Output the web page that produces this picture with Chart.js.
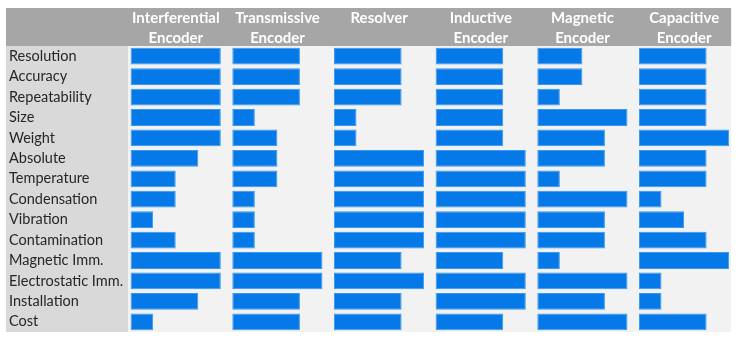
<!DOCTYPE html>
<html>
<head>
<meta charset="utf-8">
<script src="https://cdn.jsdelivr.net/npm/chart.js@4"></script>
<style>
  html, body { margin: 0; padding: 0; background: #ffffff; }
  #wrap { width: 752px; height: 354px; }
</style>
</head>
<body>
<div id="wrap"><canvas id="encoderChart"></canvas></div>
<script>
// Criteria (rows)
const criteria = [
    'Resolution', 'Accuracy', 'Repeatability', 'Size', 'Weight', 'Absolute',
    'Temperature', 'Condensation', 'Vibration', 'Contamination',
    'Magnetic Imm.', 'Electrostatic Imm.', 'Installation', 'Cost'
];

// Encoder types (column headers)
const encoderNames = [
    ['Interferential', 'Encoder'],
    ['Transmissive', 'Encoder'],
    ['Resolver'],
    ['Inductive', 'Encoder'],
    ['Magnetic', 'Encoder'],
    ['Capacitive', 'Encoder']
];

// Ratings 1..4 per criterion
const interferential = [4, 4, 4, 4, 4, 3, 2, 2, 1, 2, 4, 4, 3, 1];
const transmissive   = [3, 3, 3, 1, 2, 2, 2, 1, 1, 1, 4, 4, 3, 3];
const resolver       = [3, 3, 3, 1, 1, 4, 4, 4, 4, 4, 3, 4, 3, 3];
const inductive      = [3, 3, 3, 3, 3, 4, 4, 4, 4, 4, 3, 4, 4, 3];
const magnetic       = [2, 2, 1, 4, 3, 3, 1, 4, 3, 3, 1, 4, 3, 4];
const capacitive     = [3, 3, 3, 3, 4, 3, 3, 1, 2, 3, 4, 1, 1, 3];

const ratings = [interferential, transmissive, resolver, inductive, magnetic, capacitive];

const barColor = '#0679E8';
const fontFamily = 'Lato, "Open Sans", sans-serif';

// Background panels: header, label column, data area
const panelPlugin = {
    id: 'panels',
    beforeDraw(chart) {
        const ctx = chart.ctx;
        const area = chart.chartArea;
        const first = chart.scales.x0;
        const last = chart.scales.x5;
        const split = first.getPixelForValue(0) - 2.5;
        const right = last.getPixelForValue(4) + 2;
        const left = 6;
        ctx.save();
        ctx.fillStyle = '#a6a6a6';
        ctx.fillRect(left, 8, right - left, area.top - 8);
        ctx.fillStyle = '#d9d9d9';
        ctx.fillRect(left, area.top, split - left, area.bottom - area.top);
        ctx.fillStyle = '#f2f2f2';
        ctx.fillRect(split, area.top, right - split, area.bottom - area.top);
        ctx.restore();
    }
};

const scales = {
    y: {
        type: 'category',
        position: 'left',
        grid: { display: false },
        border: { display: false },
        ticks: {
            autoSkip: false,
            crossAlign: 'far',
            color: '#262626',
            font: { family: fontFamily, size: 14.5 }
        },
        afterFit: function(scale) { scale.width = 116; }
    }
};

const datasets = [];

ratings.forEach((values, i) => {
    const id = 'x' + i;
    scales[id] = {
        type: 'linear',
        position: 'top',
        stack: 'columns',
        stackWeight: 1,
        // top boxes are laid out in reverse weight order
        weight: ratings.length - i,
        min: -0.25,
        max: 4.26,
        grid: { display: false },
        border: { display: false },
        ticks: { display: false },
        title: {
            display: true,
            text: encoderNames[i],
            color: '#ffffff',
            padding: 0,
            font: { family: fontFamily, size: 15, weight: 'bold', lineHeight: 1.36 }
        },
        afterFit: function(scale) { scale.height = 38; }
    };
    datasets.push({
        label: encoderNames[i].join(' '),
        data: values,
        xAxisID: id,
        yAxisID: 'y',
        grouped: false,
        backgroundColor: barColor,
        borderColor: '#3a98ee',
        borderWidth: 1,
        borderSkipped: false,
        barPercentage: 0.82,
        categoryPercentage: 1
    });
});

document.addEventListener('DOMContentLoaded', function() {
    const ctx = document.getElementById('encoderChart').getContext('2d');
    new Chart(ctx, {
        type: 'bar',
        data: { labels: criteria, datasets: datasets },
        options: {
            indexAxis: 'y',
            responsive: true,
            maintainAspectRatio: false,
            animation: false,
            layout: { padding: { left: 9, right: 17, top: 8, bottom: 22 } },
            plugins: {
                legend: { display: false },
                tooltip: { enabled: false }
            },
            scales: scales
        },
        plugins: [panelPlugin]
    });
});
</script>
</body>
</html>
